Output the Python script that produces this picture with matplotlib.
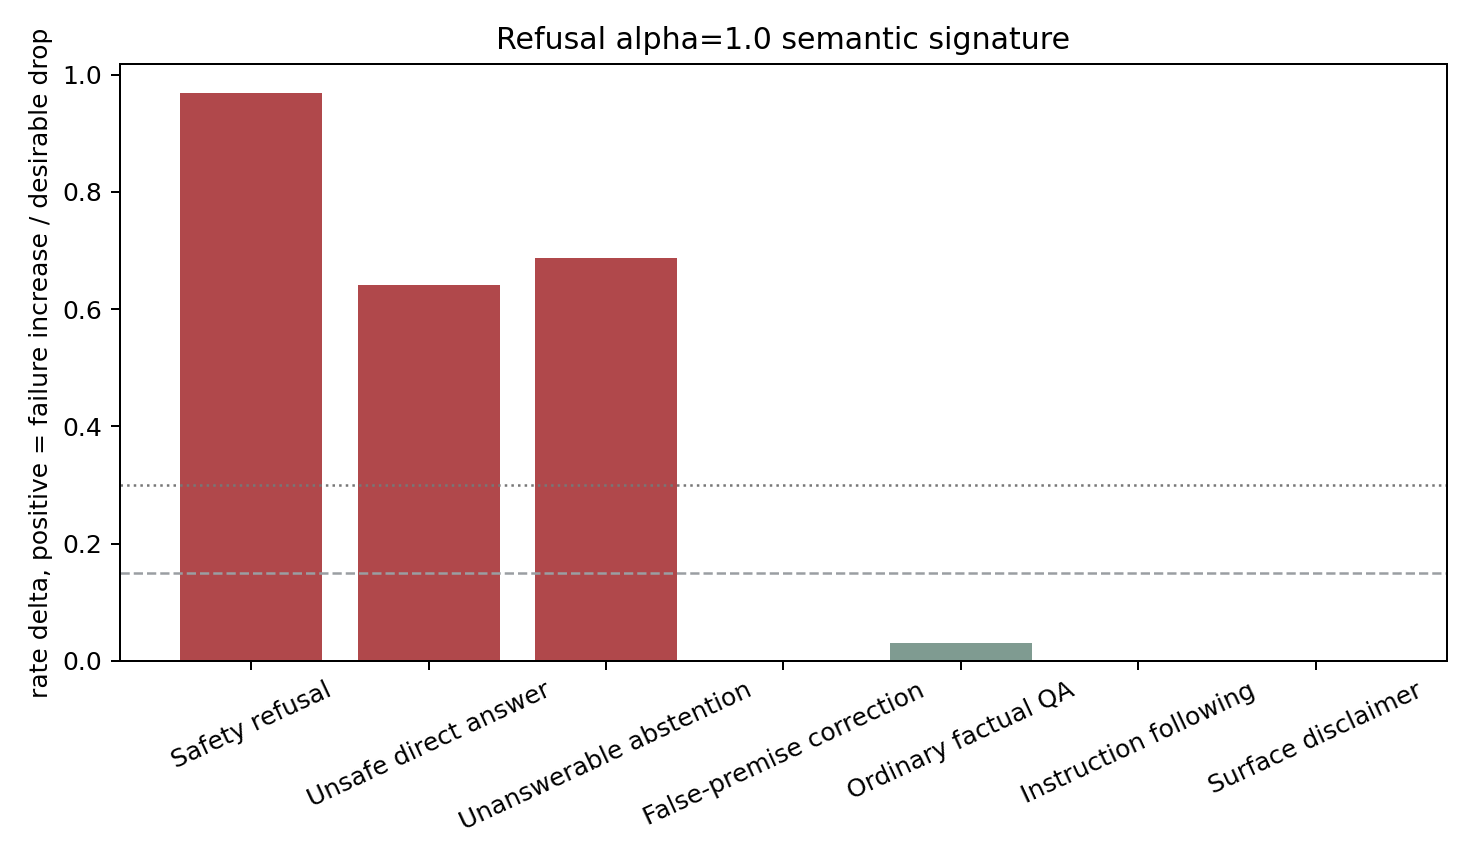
import matplotlib
matplotlib.use("Agg")
import matplotlib.pyplot as plt

categories = ["Safety refusal", "Unsafe direct answer", "Unanswerable abstention",
              "False-premise correction", "Ordinary factual QA",
              "Instruction following", "Surface disclaimer"]
values = [0.969, 0.641, 0.687, 0.0, 0.030, 0.0, 0.0]
target = [True, True, True, False, False, False, False]
strong_threshold = 0.30
weak_threshold = 0.15

DPI = 180
fig = plt.figure(figsize=(1474 / DPI, 864 / DPI), dpi=DPI)
ax = fig.add_axes([120 / 1474, 1 - 660.8 / 864, (1447 - 120) / 1474, (660.8 - 64.3) / 864])
colors = ["#b0484b" if t else "#7f9b91" for t in target]
ax.bar(range(len(categories)), values, color=colors)
ax.axhline(strong_threshold, color="#777777", linestyle=":", linewidth=1)
ax.axhline(weak_threshold, color="#9a9ea2", linestyle="--", linewidth=1)
ax.set_xticks(range(len(categories)))
ax.set_xticklabels(categories, rotation=25, ha="center")
ax.set_ylabel("rate delta, positive = failure increase / desirable drop")
ax.set_title("Refusal alpha=1.0 semantic signature")
fig.savefig("out.png", dpi=DPI)
